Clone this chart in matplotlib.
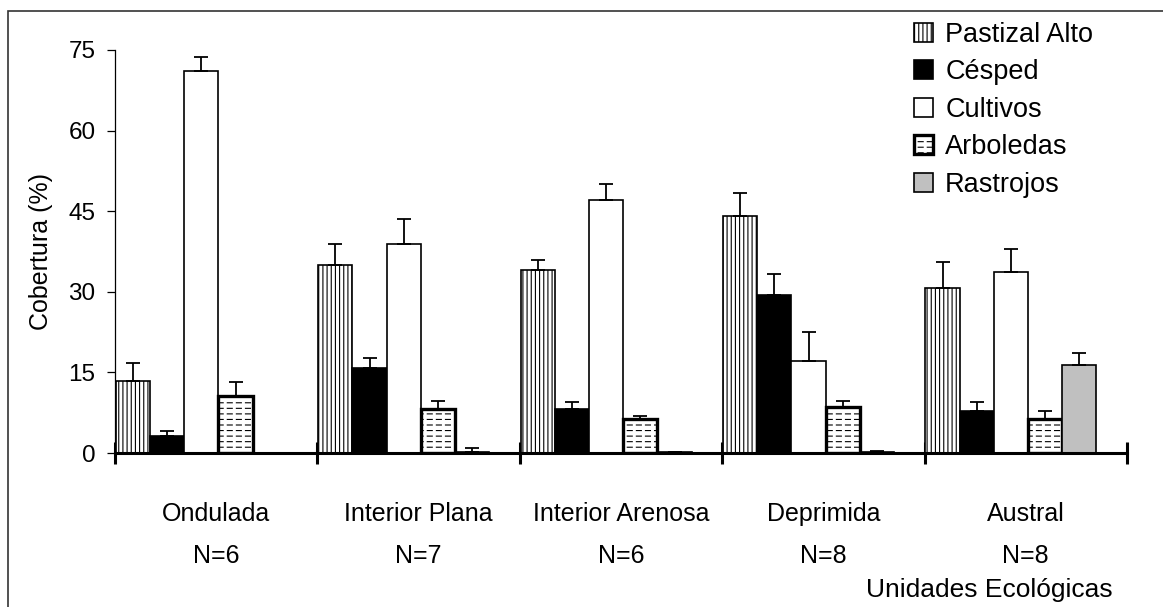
import numpy as np
import matplotlib
matplotlib.use('Agg')
import matplotlib.pyplot as plt
import matplotlib.hatch as mhatch
from matplotlib.path import Path
from matplotlib.patches import Rectangle

# --- data ---
unidades = ['Ondulada', 'Interior Plana', 'Interior Arenosa', 'Deprimida', 'Austral']
n_sitios = ['N=6', 'N=7', 'N=6', 'N=8', 'N=8']
clases = ['Pastizal Alto', 'Césped', 'Cultivos', 'Arboledas', 'Rastrojos']

pastizal = [13.4, 35.0, 34.0, 44.1, 30.8]
pastizal_err = [3.3, 3.9, 1.9, 4.3, 4.8]
cesped = [3.2, 15.8, 8.1, 29.4, 7.9]
cesped_err = [0.9, 1.8, 1.3, 3.9, 1.5]
cultivos = [71.1, 38.9, 47.1, 17.2, 33.7]
cultivos_err = [2.6, 4.6, 2.9, 5.3, 4.3]
arboledas = [10.6, 8.2, 6.3, 8.6, 6.3]
arboledas_err = [2.7, 1.5, 0.5, 1.1, 1.5]
rastrojos = [0.0, 0.25, 0.1, 0.2, 16.4]
rastrojos_err = [0.0, 0.65, 0.15, 0.1, 2.3]


# dashed fill for "Arboledas": replace the '-' hatch with short dashes
class DashHatch(mhatch.HatchPatternBase):
    def __init__(self, hatch, density):
        self.num_rows = int(hatch.count('-') * density)
        self.num_dash = 11
        self.num_vertices = self.num_rows * self.num_dash * 2

    def set_vertices_and_codes(self, vertices, codes):
        ys = (np.arange(self.num_rows) + 0.5) / self.num_rows
        xs = np.arange(self.num_dash) / self.num_dash
        yy, xx = np.meshgrid(ys, xs, indexing='ij')
        xx = xx.ravel()
        yy = yy.ravel()
        vertices[0::2, 0] = xx
        vertices[0::2, 1] = yy
        vertices[1::2, 0] = xx + 0.55 / self.num_dash
        vertices[1::2, 1] = yy
        codes[0::2] = Path.MOVETO
        codes[1::2] = Path.LINETO


mhatch._hatch_types = [DashHatch if h is mhatch.HorizontalHatch else h
                       for h in mhatch._hatch_types]

plt.rcParams['font.family'] = ['Liberation Sans', 'DejaVu Sans']
plt.rcParams['hatch.linewidth'] = 0.8
plt.rcParams['hatch.color'] = 'black'

series = [
    (pastizal, pastizal_err, dict(facecolor='white', hatch='||||', linewidth=1.2)),
    (cesped, cesped_err, dict(facecolor='black', linewidth=1.2)),
    (cultivos, cultivos_err, dict(facecolor='white', linewidth=1.2)),
    (arboledas, arboledas_err, dict(facecolor='white', hatch='---', linewidth=2.4)),
    (rastrojos, rastrojos_err, dict(facecolor='#c0c0c0', linewidth=1.2)),
]

fig = plt.figure(figsize=(11.63, 6.07), dpi=100, facecolor='w')
ax = fig.add_axes([115 / 1163, 1 - 453 / 607, 1012 / 1163, 403 / 607])

grupos = np.arange(len(unidades))
ancho = 0.169
handles = []
for k, (vals, errs, estilo) in enumerate(series):
    x = grupos + 0.004 + k * ancho
    b = ax.bar(x, vals, width=ancho, align='edge', edgecolor='black',
               label=clases[k], zorder=2, **estilo)
    handles.append(b)
    ax.errorbar(x + ancho / 2, vals, yerr=[np.zeros(len(vals)), errs],
                fmt='none', ecolor='black', elinewidth=1.3, capsize=5,
                capthick=1.3, zorder=3)

ax.set_xlim(0, len(unidades))
ax.set_ylim(0, 75)
ax.set_yticks([0, 15, 30, 45, 60, 75])
ax.tick_params(axis='y', labelsize=17.5, length=6, width=0.9, pad=8)
ax.set_ylabel('Cobertura (%)', fontsize=18, labelpad=11)

ax.set_xticks(np.arange(len(unidades) + 1))
ax.set_xticklabels([])
ax.tick_params(axis='x', which='major', direction='inout', length=16, width=2.2)
ax.set_xticks(grupos + 0.5, minor=True)
ax.set_xticklabels([u + '\n' + n for u, n in zip(unidades, n_sitios)], minor=True)
ax.tick_params(axis='x', which='minor', length=0, labelsize=18, pad=35)
for lab in ax.get_xticklabels(minor=True):
    lab.set_linespacing(1.95)

ax.spines['top'].set_visible(False)
ax.spines['right'].set_visible(False)
ax.spines['left'].set_linewidth(0.9)
ax.spines['bottom'].set_linewidth(2.2)

fig.legend(handles=handles, labels=clases, loc='upper left',
           bbox_to_anchor=(914 / 1163, 1 - 22 / 607), frameon=False,
           fontsize=19.5, handlelength=0.7, handleheight=0.7,
           handletextpad=0.45, labelspacing=0.42, borderpad=0, borderaxespad=0)

fig.text(1113 / 1163, 1 - 590 / 607, 'Unidades Ecológicas', fontsize=19,
         ha='right', va='center')

# outer frame of the chart area
fig.patches.append(Rectangle((8 / 1163, -0.2), 1.2, 1.2 - 11 / 607,
                             transform=fig.transFigure, fill=False,
                             edgecolor='#333333', linewidth=1.2))

fig.savefig('out.png', dpi=100, facecolor='w')
